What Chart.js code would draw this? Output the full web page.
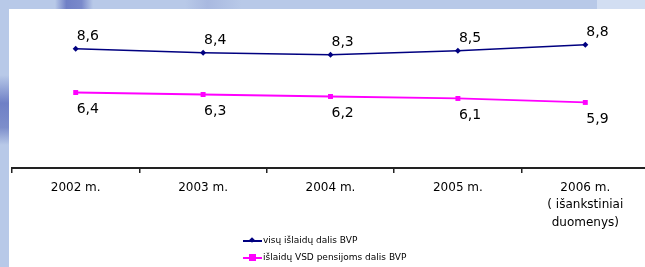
<!DOCTYPE html>
<html>
<head>
<meta charset="utf-8">
<script src="https://cdn.jsdelivr.net/npm/chart.js@4/dist/chart.umd.min.js"></script>
<style>
  html, body { margin: 0; padding: 0; }
  body {
    width: 645px;
    height: 267px;
    overflow: hidden;
    position: relative;
    background: #b8c9e8;
    font-family: "DejaVu Sans", sans-serif;
  }
  .topPatch { position: absolute; top: 0; height: 9px; }
  .sidePatch { position: absolute; left: 0; width: 9px; top: 75px; height: 70px;
    background: linear-gradient(to bottom, #b8c9e8, #6f80c6 40%, #7d8ecb 75%, #b8c9e8); }
  .paper { position: absolute; left: 9px; top: 9px; right: 0; bottom: 0; background: #fff; }
  .wrap { position: absolute; left: 0; top: 0; width: 660px; height: 267px; }
  .legend { position: absolute; left: 243px; top: 234px; font-size: 9px; color: #000; }
  .legend div { position: relative; height: 16.5px; line-height: 13px; padding-left: 20px; white-space: nowrap; }
  .legend .ln { position: absolute; left: 0; top: 6px; width: 19px; height: 2px; }
  .legend .mk { position: absolute; }
</style>
</head>
<body>
<div class="topPatch" style="left:55px;width:38px;background:linear-gradient(to right,#b8c9e8,#7080c6 30%,#7a8acb 70%,#b8c9e8);"></div>
<div class="topPatch" style="left:185px;width:56px;background:linear-gradient(to right,#b8c9e8,#a9b9e0 40%,#b8c9e8);"></div>
<div class="topPatch" style="left:597px;right:0;background:#d2def2;"></div>
<div class="sidePatch"></div>
<div class="paper"></div>
<div class="wrap"><canvas id="chart" width="660" height="267"></canvas></div>
<div class="legend">
  <div><span class="ln" style="background:#000080"></span><span class="mk" style="left:7px;top:4px;width:4px;height:4px;background:#000080;transform:rotate(45deg)"></span>visų išlaidų dalis BVP</div>
  <div><span class="ln" style="background:#ff00ff"></span><span class="mk" style="left:6px;top:3px;width:7px;height:7px;background:#ff00ff"></span>išlaidų VSD pensijoms dalis BVP</div>
</div>
<script>
const categories = ["2002 m.", "2003 m.", "2004 m.", "2005 m.", ["2006 m.", "( išankstiniai", "duomenys)"]];
const totalShare = [8.6, 8.4, 8.3, 8.5, 8.8];
const pensionShare = [6.4, 6.3, 6.2, 6.1, 5.9];
const seriesNames = ["visų išlaidų dalis BVP", "išlaidų VSD pensijoms dalis BVP"];

// value labels with a decimal comma, above the first line, below the second
const valueLabels = {
  id: "valueLabels",
  afterDatasetsDraw(chart) {
    const ctx = chart.ctx;
    ctx.save();
    ctx.font = "14px 'DejaVu Sans'";
    ctx.fillStyle = "#000";
    ctx.textAlign = "left";
    ctx.textBaseline = "middle";
    chart.data.datasets.forEach((ds, i) => {
      const meta = chart.getDatasetMeta(i);
      const dy = i === 0 ? -12 : 17;
      meta.data.forEach((pt, j) => {
        const txt = ds.data[j].toFixed(1).replace(".", ",");
        ctx.fillText(txt, pt.x + 1, pt.y + dy);
      });
    });
    ctx.restore();
  }
};

const ctx = document.getElementById("chart");

const chart = new Chart(ctx, {
  type: "line",
  data: {
    labels: categories,
    datasets: [
      {
        label: seriesNames[0],
        data: totalShare,
        borderColor: "#000080",
        backgroundColor: "#000080",
        borderWidth: 1.5,
        pointStyle: "rectRot",
        pointRadius: 3,
        pointBorderWidth: 0
      },
      {
        label: seriesNames[1],
        data: pensionShare,
        borderColor: "#ff00ff",
        backgroundColor: "#ff00ff",
        borderWidth: 1.8,
        pointStyle: "rect",
        pointRadius: 3.5,
        pointBorderWidth: 0
      }
    ]
  },
  options: {
    responsive: false,
    maintainAspectRatio: false,
    animation: false,
    layout: {
      padding: { left: 12, right: 11, top: 21, bottom: 0 }
    },
    plugins: {
      legend: { display: false },
      tooltip: { enabled: false }
    },
    scales: {
      x: {
        offset: true,
        afterFit(scale) {
          scale.height = 99;
        },
        grid: {
          offset: true,
          drawOnChartArea: false,
          drawTicks: true,
          tickLength: 5,
          color: "#222",
          lineWidth: 1.5
        },
        border: { display: true, color: "#222", width: 2 },
        ticks: {
          color: "#000",
          padding: 6,
          maxRotation: 0,
          autoSkip: false,
          font: { family: "DejaVu Sans", size: 12, lineHeight: 1.45 }
        }
      },
      y: {
        display: false,
        min: 2.6,
        max: 10
      }
    }
  },
  plugins: [valueLabels]
});
</script>
</body>
</html>
